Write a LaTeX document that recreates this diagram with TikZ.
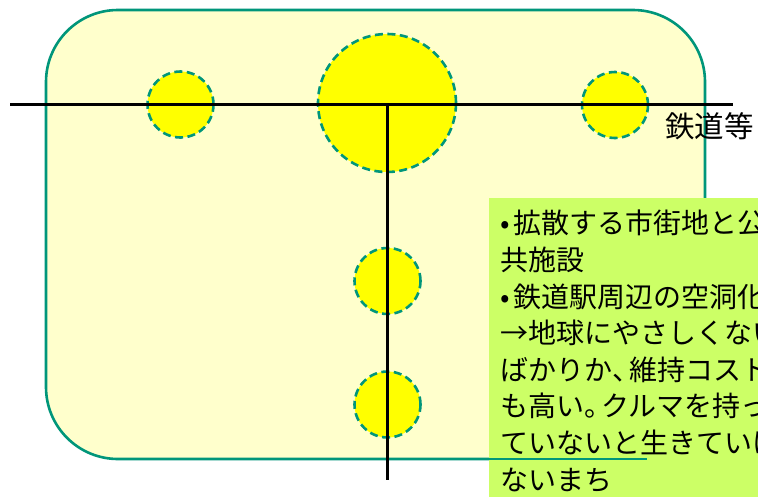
\documentclass[tikz,border=0pt]{standalone}
\usepackage{fontspec}
\newfontfamily\jpfont{Noto Sans CJK JP}
\definecolor{areafill}{HTML}{FFFFCC}
\definecolor{areaedge}{HTML}{00967A}
\definecolor{hubfill}{HTML}{FFFF00}
\definecolor{notefill}{HTML}{CCFF66}
\tikzset{
  area/.style={draw=areaedge, fill=areafill, line width=2.6pt, rounded corners=72pt},
  hub/.style={circle, draw=areaedge, fill=hubfill, line width=2.6pt, dash pattern=on 8pt off 4.5pt, inner sep=0pt},
  rail/.style={draw=black, line width=3pt},
  notebox/.style={fill=notefill, draw=none},
  jptext/.style={font=\jpfont\fontsize{28}{36.6}\selectfont, inner sep=0pt, align=left, text=black}
}
\begin{document}
\begin{tikzpicture}[x=1pt, y=-1pt]
\clip (0,0) rectangle (758,496);
\fill[white] (0,0) rectangle (758,496);
% city area
\draw[area] (46,10) rectangle (705,459);
% hubs
\node[hub, minimum size=66pt] (h1) at (180.5,104.5) {};
\node[hub, minimum size=138pt] (h2) at (387,103) {};
\node[hub, minimum size=66pt] (h3) at (615,105) {};
\node[hub, minimum size=66pt] (h4) at (387.5,281) {};
\node[hub, minimum size=66pt] (h5) at (387.5,404.5) {};
% railways
\coordinate (hl) at (10,104);
\coordinate (hr) at (733,104);
\coordinate (vt) at (387,104);
\coordinate (vb) at (387,480);
\draw[rail] (hl) -- (hr);
\draw[rail] (vt) -- (vb);
\node[jptext, anchor=north west, font=\jpfont\fontsize{29.5}{36}\selectfont] (rail) at (665,112) {鉄道等};
% note box
\coordinate (nb1) at (489,198);
\coordinate (nb2) at (770,510);
\fill[notebox] (nb1) rectangle (nb2);
\coordinate (e1) at (489,459);
\coordinate (e2) at (647,459);
\draw[areaedge, line width=2.6pt] (e1) -- (e2);
\node[jptext, anchor=north west] (note) at (500,210) {•\kern4pt 拡散する市街地と公\\共施設\\•\kern4pt 鉄道駅周辺の空洞化\\→地球にやさしくない\\ばかりか、\kern-11pt 維持コスト\\も高い。\kern-11pt クルマを持っ\\ていないと生きていけ\\ないまち};
\end{tikzpicture}
\end{document}
